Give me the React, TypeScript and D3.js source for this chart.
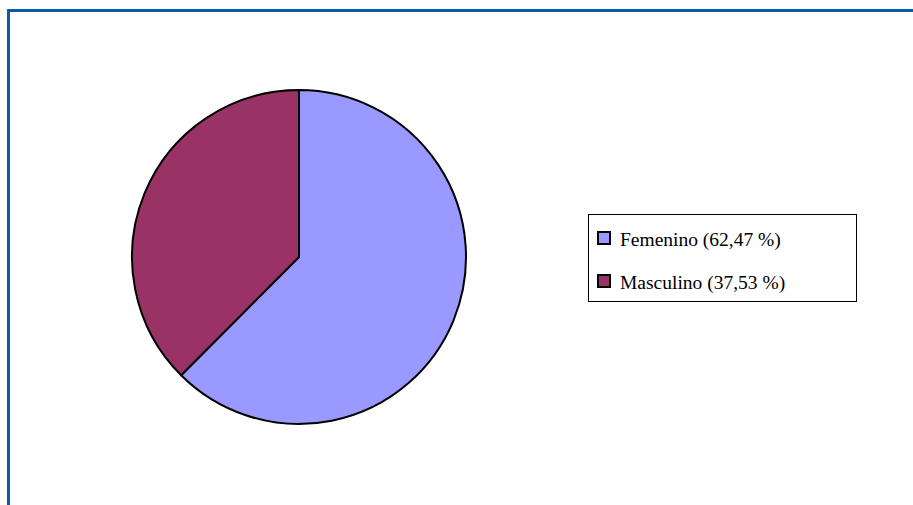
import React from "react";
import * as d3 from "d3";

const categories = ["Femenino", "Masculino"];
const values = [62.47, 37.53];
const labels = ["Femenino (62,47 %)", "Masculino (37,53 %)"];
const colors = ["#9999FF", "#993366"];

export default function App() {
  const W = 913, H = 505;
  const cx = 299, cy = 257, r = 167;
  const pie = d3.pie<number>().sort(null).value((d) => d)(values);
  const arc = d3.arc<d3.PieArcDatum<number>>().innerRadius(0).outerRadius(r);
  return (
    <svg width={W} height={H} style={{ position: "absolute", left: 0, top: 0 }}>
      <rect x={0} y={0} width={W} height={H} fill="#fff" />
      <path d={`M8.5,${H} L8.5,10.5 L${W},10.5`} fill="none" stroke="#0a5aaa" strokeWidth={3} />
      <g transform={`translate(${cx},${cy})`}>
        {pie.map((p, i) => (
          <path key={categories[i]} d={arc(p) || ""} fill={colors[i]} stroke="#000" strokeWidth={2} strokeLinejoin="round" />
        ))}
      </g>
      <rect x={588.5} y={214.5} width={268} height={87} fill="#fff" stroke="#000" strokeWidth={1} />
      {labels.map((l, i) => (
        <g key={l} transform={`translate(0,${i * 43})`}>
          <rect x={598} y={232} width={12} height={12} fill={colors[i]} stroke="#000" strokeWidth={2} />
          <text x={620} y={246} fontFamily="'Liberation Serif', 'DejaVu Serif', serif" fontSize={19.5} fill="#000">{l}</text>
        </g>
      ))}
    </svg>
  );
}
